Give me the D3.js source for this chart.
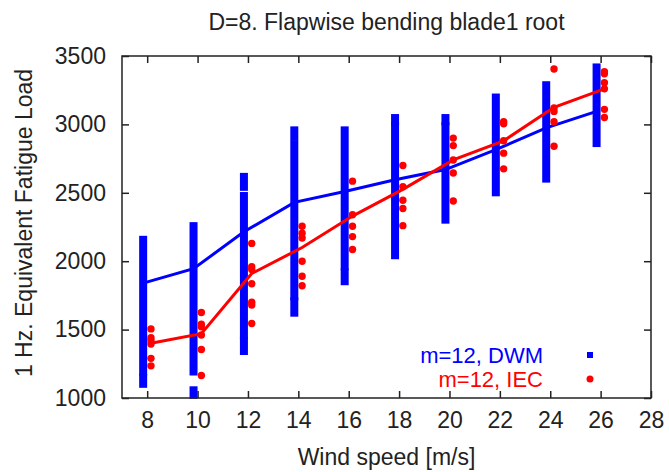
<!DOCTYPE html>
<html>
<head>
<meta charset="utf-8">
<script src="https://cdn.jsdelivr.net/npm/d3@7"></script>
<style>
  body { margin: 0; background: #fff; }
  text { font-family: "Liberation Sans", Arial, sans-serif; fill: #222; }
</style>
</head>
<body>
<div id="chart"></div>
<script>
// wind speed bins
const windSpeeds = [8, 10, 12, 14, 16, 18, 20, 22, 24, 26];

// mean lines
const dwmMean = [1840, 1945, 2215, 2430, 2510, 2595, 2670, 2815, 2975, 3095];
const iecMean = [1400, 1470, 1910, 2100, 2330, 2525, 2740, 2880, 3125, 3260];

// IEC single points per wind speed
const iecPoints = [
  [1505, 1440, 1420, 1395, 1290, 1235],
  [1625, 1540, 1520, 1460, 1355, 1165],
  [2130, 1960, 1940, 1835, 1700, 1680, 1545],
  [2255, 2205, 2170, 2000, 1890, 1820],
  [2585, 2340, 2255, 2180, 2085],
  [2700, 2545, 2445, 2385, 2260],
  [2900, 2845, 2740, 2645, 2440],
  [3020, 3005, 2880, 2790, 2675],
  [3405, 3120, 3095, 3020, 2840],
  [3385, 3370, 3305, 3260, 3110, 3050]
];

// DWM points are so dense they merge into solid runs [low, high]
const dwmRuns = [
  [[1190, 2160], [1100, 1150]],
  [[1190, 2260], [1020, 1060]],
  [[1460, 2480], [2540, 2620], [1340, 1420]],
  [[1740, 2860], [2910, 2960], [1620, 1710]],
  [[1960, 2960], [1850, 1920]],
  [[2040, 2990], [3020, 3050]],
  [[2300, 2990], [3020, 3050]],
  [[2500, 3200]],
  [[2600, 3290]],
  [[2860, 3300], [3350, 3420]]
];

const xTicks = [8, 10, 12, 14, 16, 18, 20, 22, 24, 26, 28];
const yTicks = [1000, 1500, 2000, 2500, 3000, 3500];

const svgWidth = 669, svgHeight = 472,
  plotLeft = 122, plotRight = 651, plotTop = 56, plotBottom = 398,
  dwmShift = -0.16, iecShift = 0.15,
  fontSize = 23;

const x = d3.scaleLinear().domain([7, 28]).range([plotLeft, plotRight]);
const y = d3.scaleLinear().domain([1000, 3500]).range([plotBottom, plotTop]);

const svg = d3.select('#chart')
  .append('svg')
  .attr('width', svgWidth)
  .attr('height', svgHeight);

// title
svg.append('text')
  .attr('x', (plotLeft + plotRight) / 2)
  .attr('y', 30)
  .attr('text-anchor', 'middle')
  .style('font-size', fontSize + 'px')
  .text('D=8. Flapwise bending blade1 root');

// DWM runs
const dwmFlat = [];
dwmRuns.forEach((runs, i) => runs.forEach(r => dwmFlat.push({ ws: windSpeeds[i], lo: r[0], hi: r[1] })));

svg.selectAll('.dwm-run')
  .data(dwmFlat)
  .enter()
  .append('rect')
  .attr('class', 'dwm-run')
  .attr('x', d => x(d.ws + dwmShift) - 4)
  .attr('y', d => y(d.hi) - 3.5)
  .attr('width', 8)
  .attr('height', d => y(d.lo) - y(d.hi) + 7)
  .attr('fill', '#0000ff');

// DWM mean line
const line = d3.line().x(d => d[0]).y(d => d[1]);

svg.append('path')
  .attr('d', line(windSpeeds.map((w, i) => [x(w + dwmShift), y(dwmMean[i])])))
  .attr('fill', 'none')
  .attr('stroke', '#0000ff')
  .attr('stroke-width', 3);

// IEC points
const iecFlat = [];
iecPoints.forEach((vals, i) => vals.forEach(v => iecFlat.push({ ws: windSpeeds[i], v: v })));

svg.selectAll('.iec-pt')
  .data(iecFlat)
  .enter()
  .append('circle')
  .attr('class', 'iec-pt')
  .attr('cx', d => x(d.ws + iecShift))
  .attr('cy', d => y(d.v))
  .attr('r', 3.7)
  .attr('fill', '#ff0000');

// IEC mean line
svg.append('path')
  .attr('d', line(windSpeeds.map((w, i) => [x(w + iecShift), y(iecMean[i])])))
  .attr('fill', 'none')
  .attr('stroke', '#ff0000')
  .attr('stroke-width', 3);

// frame
svg.append('rect')
  .attr('x', plotLeft)
  .attr('y', plotTop)
  .attr('width', plotRight - plotLeft)
  .attr('height', plotBottom - plotTop)
  .attr('fill', 'none')
  .attr('stroke', '#222')
  .attr('stroke-width', 1.5);

// axes, ticks pointing inwards on all four sides
svg.append('g')
  .attr('transform', `translate(0,${plotBottom})`)
  .call(d3.axisBottom(x).tickValues(xTicks).tickSize(-7).tickPadding(14).tickFormat(d3.format('d')))
  .call(g => g.select('.domain').remove());

svg.append('g')
  .attr('transform', `translate(0,${plotTop})`)
  .call(d3.axisTop(x).tickValues(xTicks).tickSize(-7).tickFormat(''))
  .call(g => g.select('.domain').remove());

svg.append('g')
  .attr('transform', `translate(${plotLeft},0)`)
  .call(d3.axisLeft(y).tickValues(yTicks).tickSize(-7).tickPadding(16).tickFormat(d3.format('d')))
  .call(g => g.select('.domain').remove());

svg.append('g')
  .attr('transform', `translate(${plotRight},0)`)
  .call(d3.axisRight(y).tickValues(yTicks).tickSize(-7).tickFormat(''))
  .call(g => g.select('.domain').remove());

svg.selectAll('.tick line').attr('stroke', '#222').attr('stroke-width', 1.5);
svg.selectAll('.tick text')
  .style('font-size', fontSize + 'px')
  .style('font-family', '"Liberation Sans", Arial, sans-serif')
  .attr('fill', '#222');

// axis titles
svg.append('text')
  .attr('x', (plotLeft + plotRight) / 2)
  .attr('y', 465)
  .attr('text-anchor', 'middle')
  .style('font-size', fontSize + 'px')
  .text('Wind speed [m/s]');

svg.append('text')
  .attr('transform', `translate(32,${(plotTop + plotBottom) / 2 - 4}) rotate(-90)`)
  .attr('text-anchor', 'middle')
  .style('font-size', fontSize + 'px')
  .text('1 Hz. Equivalent Fatigue Load');

// legend
const legend = [
  { label: 'm=12, DWM', color: '#0000ff', shape: 'square' },
  { label: 'm=12, IEC', color: '#ff0000', shape: 'circle' }
];

legend.forEach((d, i) => {
  const ly = 355 + i * 24;
  svg.append('text')
    .attr('x', 543)
    .attr('y', ly)
    .attr('dy', '0.35em')
    .attr('text-anchor', 'end')
    .style('font-size', '22px')
    .style('fill', d.color)
    .text(d.label);
  if (d.shape === 'square') {
    svg.append('rect')
      .attr('x', 587).attr('y', ly - 3)
      .attr('width', 6).attr('height', 6)
      .attr('fill', d.color);
  } else {
    svg.append('circle')
      .attr('cx', 590).attr('cy', ly)
      .attr('r', 3.5)
      .attr('fill', d.color);
  }
});
</script>
</body>
</html>
